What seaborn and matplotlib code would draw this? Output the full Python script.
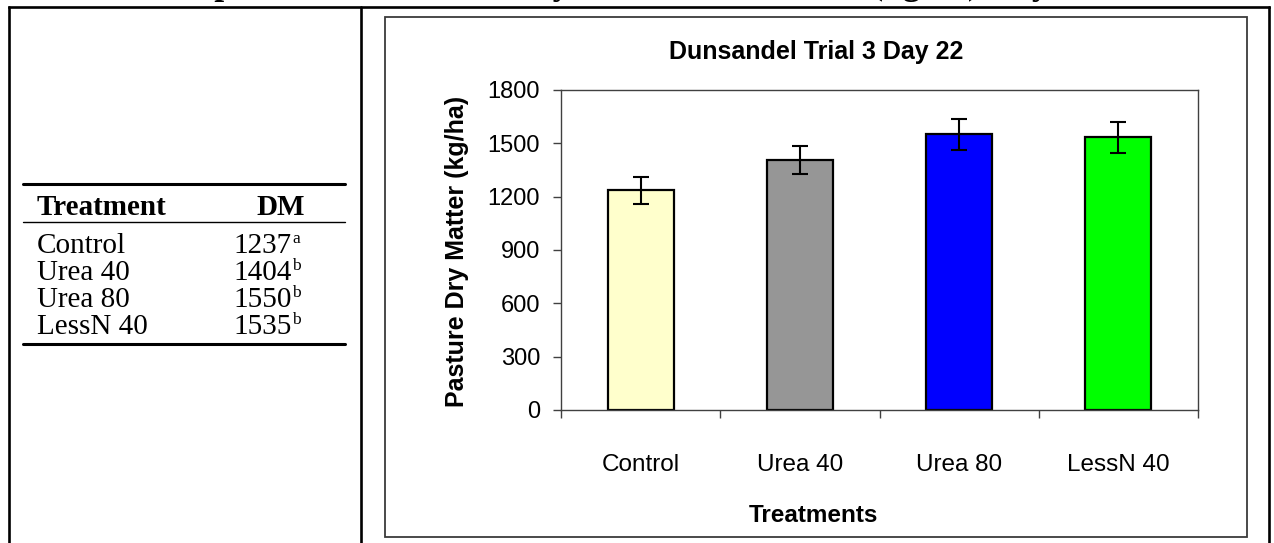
import matplotlib
matplotlib.use('Agg')
import matplotlib.pyplot as plt
import seaborn as sns
import pandas as pd

# Data
treatments = ['Control', 'Urea 40', 'Urea 80', 'LessN 40']
dm_values = [1237, 1404, 1550, 1535]
dm_errors = [76, 79, 87, 87]
dm_letters = ['a', 'b', 'b', 'b']
bar_colors = ['#FFFFCC', '#969696', '#0000FF', '#00FF00']
y_ticks = [0, 300, 600, 900, 1200, 1500, 1800]

sns.set_style('white')
plt.rcParams['font.family'] = ['Liberation Sans', 'DejaVu Sans']
plt.rcParams['text.color'] = 'black'
plt.rcParams['xtick.color'] = 'black'
plt.rcParams['ytick.color'] = 'black'
plt.rcParams['xtick.labelcolor'] = 'black'
plt.rcParams['ytick.labelcolor'] = 'black'

W, H = 1274, 543
fig = plt.figure(figsize=(W / 100, H / 100), dpi=100)

# Background layer in pixel coordinates (table + frames)
bg = fig.add_axes([0, 0, 1, 1])
bg.set_xlim(0, W)
bg.set_ylim(H, 0)
bg.axis('off')

serif = ['Liberation Serif', 'DejaVu Serif']

# Heading of the document, mostly cut off at the top (as in the source)
bg.text(-5, -6, 'Table and Graph of Total Pasture Dry Matter Production (kg/ha) Day 22',
        family=serif, fontweight='bold', fontsize=25.5, ha='left', va='baseline')

# Outer table lines
lw_out = 1.9
bg.plot([9, 1269], [7, 7], color='black', lw=lw_out, solid_capstyle='projecting')
bg.plot([9, 9], [7, H + 5], color='black', lw=lw_out)
bg.plot([361, 361], [7, H + 5], color='black', lw=lw_out)
bg.plot([1269, 1269], [7, H + 5], color='black', lw=lw_out)

# Chart frame
bg.add_patch(plt.Rectangle((385, 17), 1247 - 385, 537 - 17, fill=False,
                           edgecolor='#3a3a3a', lw=1.3))

# Left table
bg.plot([23, 345], [184, 184], color='black', lw=2.2)
bg.plot([23, 345], [222, 222], color='black', lw=1.0)
bg.plot([23, 345], [344, 344], color='black', lw=2.2)
bg.text(37, 215, 'Treatment', family=serif, fontweight='bold', fontsize=21,
        ha='left', va='baseline')
bg.text(281, 215, 'DM', family=serif, fontweight='bold', fontsize=21,
        ha='center', va='baseline')
row_y = [253, 280, 307, 334]
for name, val, let, yy in zip(treatments, dm_values, dm_letters, row_y):
    bg.text(37, yy, name, family=serif, fontsize=21, ha='left', va='baseline')
    bg.text(292, yy, str(val), family=serif, fontsize=21, ha='right', va='baseline')
    bg.text(292, yy - 10, let, family=serif, fontsize=12.5, ha='left', va='baseline')

# Chart texts
bg.text(816, 52, 'Dunsandel Trial 3 Day 22', fontweight='bold', fontsize=18,
        ha='center', va='center')
bg.text(813, 515, 'Treatments', fontweight='bold', fontsize=17.5,
        ha='center', va='center')
bg.text(457, 251, 'Pasture Dry Matter (kg/ha)', fontweight='bold', fontsize=18,
        rotation=90, ha='center', va='center')

# Bar chart
ax = fig.add_axes([561 / W, (H - 410) / H, 637 / W, 320 / H])
df = pd.DataFrame({'Treatment': treatments, 'DM': dm_values})
sns.barplot(data=df, x='Treatment', y='DM', hue='Treatment', palette=bar_colors,
            saturation=1, width=0.415, edgecolor='black', linewidth=1.6,
            legend=False, ax=ax)
ax.errorbar(range(len(treatments)), dm_values, yerr=dm_errors, fmt='none',
            ecolor='black', elinewidth=1.5, capsize=5.5, capthick=1.5, zorder=5)

ax.set_xlim(-0.5, len(treatments) - 0.5)
ax.set_ylim(0, 1800)
ax.set_yticks(y_ticks)
ax.set_xticks(range(len(treatments)))
ax.set_xticks([i - 0.5 for i in range(len(treatments) + 1)], minor=True)
ax.set_xlabel('')
ax.set_ylabel('')
ax.tick_params(axis='y', direction='out', length=6, width=1, color='#404040',
               labelsize=17, pad=9, left=True)
ax.tick_params(axis='x', which='major', length=0, labelsize=17.5, pad=32)
ax.tick_params(axis='x', which='minor', direction='out', length=6, width=1,
               color='#404040', bottom=True)
for sp in ax.spines.values():
    sp.set_visible(True)
    sp.set_color('#404040')
    sp.set_linewidth(1)

fig.savefig('out.png', dpi=100)
